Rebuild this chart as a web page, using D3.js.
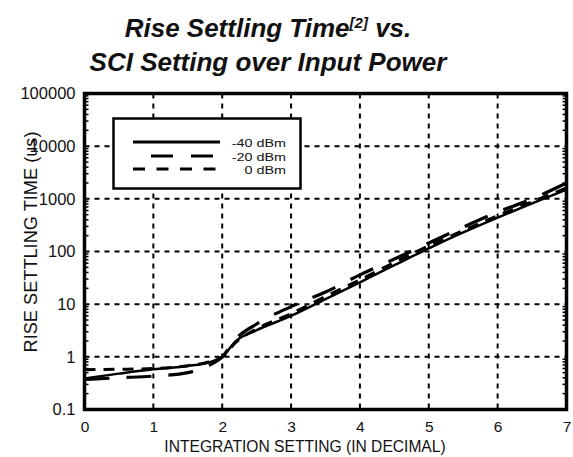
<!DOCTYPE html>
<html>
<head>
<meta charset="utf-8">
<script src="https://cdn.jsdelivr.net/npm/d3@7"></script>
<style>
  html, body { margin: 0; padding: 0; background: #fff; }
  svg { display: block; font-family: "Liberation Sans", Arial, Helvetica, sans-serif; }
</style>
</head>
<body>
<svg id="chart" width="573" height="457"></svg>
<script>
// Integration (SCI) setting on the x axis
const settings = [0, 0.5, 1, 1.5, 1.8, 2, 2.2, 2.5, 3, 3.5, 4, 4.5, 5, 5.5, 6, 6.5, 7];

// Rise settling time in microseconds, one array per input power
const riseMinus40 = [0.39, 0.48, 0.58, 0.67, 0.78, 1.0, 2.0, 3.2, 6.0, 12.5, 26, 55, 115, 230, 440, 820, 1500];
const riseMinus20 = [0.37, 0.40, 0.43, 0.50, 0.68, 1.0, 2.2, 4.2, 9.0, 17, 36, 72, 145, 290, 560, 1000, 2000];
const rise0 = [0.57, 0.58, 0.60, 0.68, 0.80, 1.0, 1.9, 3.4, 6.6, 14, 29, 62, 128, 250, 480, 880, 1600];

const seriesNames = ["-40 dBm", "-20 dBm", "0 dBm"];

const xTicks = [0, 1, 2, 3, 4, 5, 6, 7];
const yTicks = [0.1, 1, 10, 100, 1000, 10000, 100000];
const yTickLabels = ["0.1", "1", "10", "100", "1000", "10000", "100000"];

const titleLine1 = "Rise Settling Time";
const titleSup = "[2]";
const titleLine1End = " vs.";
const titleLine2 = "SCI Setting over Input Power";
const xTitle = "INTEGRATION SETTING (IN DECIMAL)";
const yTitle = "RISE SETTLING TIME (us)";

const svg = d3.select("#chart");

const plot = { left: 84.5, right: 566.5, top: 93.5, bottom: 409.5 };

const x = d3.scaleLinear().domain([0, 7]).range([plot.left, plot.right]);
const y = d3.scaleLog().domain([0.1, 100000]).range([plot.bottom, plot.top]);

// Title
const title = svg.append("g")
  .attr("font-weight", "bold")
  .attr("font-style", "italic")
  .attr("font-size", 26)
  .attr("fill", "#111")
  .attr("text-anchor", "middle");

const t1 = title.append("text").attr("x", 268).attr("y", 37);
t1.append("tspan").text(titleLine1);
t1.append("tspan").attr("font-size", 15).attr("dy", -9).text(titleSup);
t1.append("tspan").attr("dy", 9).text(titleLine1End);
title.append("text").attr("x", 268).attr("y", 71).text(titleLine2);

// Dashed grid
const grid = svg.append("g")
  .attr("stroke", "#000")
  .attr("stroke-width", 2)
  .attr("stroke-dasharray", "5 5");

grid.selectAll("line.gx")
  .data(xTicks.slice(1, -1))
  .join("line")
  .attr("class", "gx")
  .attr("x1", d => x(d)).attr("x2", d => x(d))
  .attr("y1", plot.top).attr("y2", plot.bottom);

grid.selectAll("line.gy")
  .data(yTicks.slice(1, -1))
  .join("line")
  .attr("class", "gy")
  .attr("x1", plot.left).attr("x2", plot.right)
  .attr("y1", d => y(d)).attr("y2", d => y(d));

// Minor log ticks on the left and right edges, pointing inward
const minor = [];
for (let k = -1; k < 5; k++) {
  for (let m = 2; m <= 9; m++) minor.push(m * Math.pow(10, k));
}
const ticksG = svg.append("g").attr("stroke", "#000").attr("stroke-width", 1.5);
ticksG.selectAll("line.ml")
  .data(minor).join("line").attr("class", "ml")
  .attr("x1", plot.left).attr("x2", plot.left + 4)
  .attr("y1", d => y(d)).attr("y2", d => y(d));
ticksG.selectAll("line.mr")
  .data(minor).join("line").attr("class", "mr")
  .attr("x1", plot.right).attr("x2", plot.right - 4)
  .attr("y1", d => y(d)).attr("y2", d => y(d));

// Axis tick labels via d3 axes (tick marks hidden; grid does that job)
const xAxis = svg.append("g")
  .attr("transform", `translate(0,${plot.bottom})`)
  .call(d3.axisBottom(x).tickValues(xTicks).tickFormat(d3.format("d")).tickSize(0).tickPadding(11));
xAxis.select(".domain").remove();
xAxis.selectAll("text").attr("font-size", 15.5).attr("fill", "#111").attr("font-family", null);

const yAxis = svg.append("g")
  .attr("transform", `translate(${plot.left},0)`)
  .call(d3.axisLeft(y).tickValues(yTicks).tickFormat((d, i) => yTickLabels[i]).tickSize(0).tickPadding(9));
yAxis.select(".domain").remove();
yAxis.selectAll("text").attr("font-size", 16.5).attr("fill", "#111").attr("font-family", null);

// Axis titles
svg.append("text")
  .attr("x", 305).attr("y", 452)
  .attr("text-anchor", "middle")
  .attr("font-size", 15.6)
  .attr("fill", "#111")
  .text(xTitle);

svg.append("text")
  .attr("transform", "translate(37,242) rotate(-90)")
  .attr("text-anchor", "middle")
  .attr("font-size", 18.2)
  .attr("fill", "#111")
  .text(yTitle);

// Curves
const styles = [
  { data: riseMinus40, dash: null, width: 2.5 },
  { data: riseMinus20, dash: "25 17", width: 3.2 },
  { data: rise0, dash: "11 8", width: 3 }
];

const line = d3.line()
  .x((d, i) => x(settings[i]))
  .y(d => y(d))
  .curve(d3.curveMonotoneX);

svg.append("defs").append("clipPath").attr("id", "plotClip")
  .append("rect")
  .attr("x", plot.left).attr("y", plot.top)
  .attr("width", plot.right - plot.left).attr("height", plot.bottom - plot.top);

const curves = svg.append("g").attr("clip-path", "url(#plotClip)");
curves.selectAll("path")
  .data(styles)
  .join("path")
  .attr("d", s => line(s.data))
  .attr("fill", "none")
  .attr("stroke", "#000")
  .attr("stroke-width", s => s.width)
  .attr("stroke-dasharray", s => s.dash);

// Legend
const legend = svg.append("g");
legend.append("rect")
  .attr("x", 113.5).attr("y", 118.5)
  .attr("width", 187).attr("height", 70)
  .attr("fill", "#fff")
  .attr("stroke", "#000")
  .attr("stroke-width", 2.5);

const legendRows = [
  { y: 142, dash: null, width: 2.8, offset: 0 },
  { y: 156, dash: "22 18", width: 3.2, offset: 22 },
  { y: 169, dash: "12 11.5", width: 3.2, offset: 0 }
];
legendRows.forEach((r, i) => {
  legend.append("line")
    .attr("x1", 133).attr("x2", 220)
    .attr("y1", r.y).attr("y2", r.y)
    .attr("stroke", "#000")
    .attr("stroke-width", r.width)
    .attr("stroke-dasharray", r.dash)
    .attr("stroke-dashoffset", r.offset);
  // Labels are a touch wide and short, so stretch a small font horizontally
  legend.append("text")
    .attr("transform", `translate(286,${r.y + 4.5}) scale(1.25,1)`)
    .attr("text-anchor", "end")
    .attr("font-size", 11.5)
    .attr("fill", "#111")
    .text(seriesNames[i]);
});

// Heavy frame around the plotting area
svg.append("rect")
  .attr("x", plot.left).attr("y", plot.top)
  .attr("width", plot.right - plot.left).attr("height", plot.bottom - plot.top)
  .attr("fill", "none")
  .attr("stroke", "#000")
  .attr("stroke-width", 3.5);
</script>
</body>
</html>
